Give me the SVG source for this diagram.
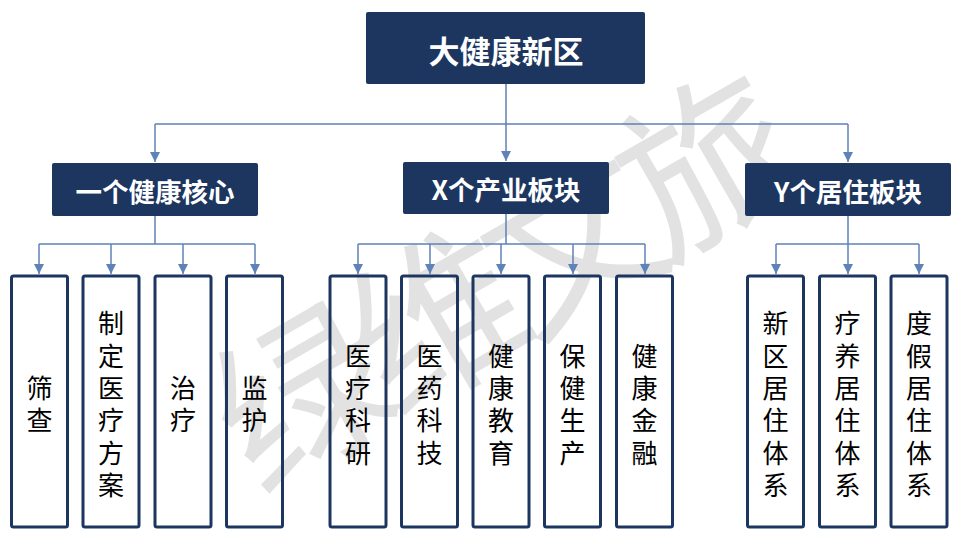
<svg xmlns="http://www.w3.org/2000/svg" width="960" height="540" viewBox="0 0 960 540">
<style>
.dark{fill:#1D3660;}
.leaf{fill:none;stroke:#1D3660;stroke-width:3;}
.t1{font-family:"Noto Sans CJK SC","Liberation Sans",sans-serif;font-weight:bold;fill:#FFFFFF;text-anchor:middle;dominant-baseline:central;}
.lt{font-family:"Noto Sans CJK SC","Liberation Sans",sans-serif;font-size:26px;fill:#000000;text-anchor:middle;dominant-baseline:central;}
.con{fill:none;stroke:#5F82B8;stroke-width:1.5;}
.wm{font-family:"Noto Sans CJK SC",sans-serif;font-size:172px;font-weight:normal;fill:#E2E2E2;text-anchor:middle;dominant-baseline:central;}
</style>
<defs>
<marker id="arr" markerWidth="10" markerHeight="10" refX="8" refY="4" orient="auto" markerUnits="userSpaceOnUse" viewBox="0 0 8 8">
<path d="M0,0 L8,4 L0,8 Z" fill="#5F82B8"/>
</marker>
</defs>
<rect width="960" height="540" fill="#FFFFFF"/>
<text class="wm" x="492" y="275" transform="rotate(-30 492 275)" letter-spacing="-16">绿维文旅</text>
<g id="connectors">
<path class="con" d="M506,84 V124 M155,124 H848"/>
<path class="con" d="M155,124 V162" marker-end="url(#arr)"/>
<path class="con" d="M506,124 V161" marker-end="url(#arr)"/>
<path class="con" d="M848,124 V162" marker-end="url(#arr)"/>
<path class="con" d="M155,216 V244 M39,244 H255"/>
<path class="con" d="M39,244 V274" marker-end="url(#arr)"/>
<path class="con" d="M111,244 V274" marker-end="url(#arr)"/>
<path class="con" d="M183,244 V274" marker-end="url(#arr)"/>
<path class="con" d="M255,244 V274" marker-end="url(#arr)"/>
<path class="con" d="M506,214 V244 M358,244 H645"/>
<path class="con" d="M358,244 V274" marker-end="url(#arr)"/>
<path class="con" d="M430,244 V274" marker-end="url(#arr)"/>
<path class="con" d="M501,244 V274" marker-end="url(#arr)"/>
<path class="con" d="M573,244 V274" marker-end="url(#arr)"/>
<path class="con" d="M645,244 V274" marker-end="url(#arr)"/>
<path class="con" d="M848,216 V244 M776,244 H919"/>
<path class="con" d="M776,244 V274" marker-end="url(#arr)"/>
<path class="con" d="M848,244 V274" marker-end="url(#arr)"/>
<path class="con" d="M919,244 V274" marker-end="url(#arr)"/>
</g>
<g id="root">
<rect class="dark" x="366" y="12" width="279" height="72" rx="2"/>
<text class="t1" x="506" y="49" font-size="31">大健康新区</text>
</g>
<g id="cat1">
<rect class="dark" x="52" y="163" width="206" height="53" rx="2"/>
<text class="t1" x="155" y="190" font-size="26.5">一个健康核心</text>
</g>
<g id="cat2">
<rect class="dark" x="403" y="162" width="206" height="52" rx="2"/>
<text class="t1" x="506" y="188" font-size="26.5">X个产业板块</text>
</g>
<g id="cat3">
<rect class="dark" x="745" y="163" width="206" height="53" rx="2"/>
<text class="t1" x="848" y="190" font-size="26.5">Y个居住板块</text>
</g>
<g id="leaf1">
<rect class="leaf" x="11.5" y="276" width="56" height="251" rx="2"/>
<text class="lt" x="39.5"><tspan x="39.5" y="386">筛</tspan><tspan x="39.5" y="418">查</tspan></text>
</g>
<g id="leaf2">
<rect class="leaf" x="83" y="276" width="56" height="251" rx="2"/>
<text class="lt"><tspan x="111" y="321">制</tspan><tspan x="111" y="353.5">定</tspan><tspan x="111" y="386">医</tspan><tspan x="111" y="418">疗</tspan><tspan x="111" y="450.5">方</tspan><tspan x="111" y="483">案</tspan></text>
</g>
<g id="leaf3">
<rect class="leaf" x="155" y="276" width="56" height="251" rx="2"/>
<text class="lt"><tspan x="183" y="386">治</tspan><tspan x="183" y="418">疗</tspan></text>
</g>
<g id="leaf4">
<rect class="leaf" x="226.5" y="276" width="56" height="251" rx="2"/>
<text class="lt"><tspan x="254.5" y="386">监</tspan><tspan x="254.5" y="418">护</tspan></text>
</g>
<g id="leaf5">
<rect class="leaf" x="330" y="276" width="56" height="251" rx="2"/>
<text class="lt"><tspan x="358" y="353.5">医</tspan><tspan x="358" y="386">疗</tspan><tspan x="358" y="418">科</tspan><tspan x="358" y="450.5">研</tspan></text>
</g>
<g id="leaf6">
<rect class="leaf" x="401.5" y="276" width="56" height="251" rx="2"/>
<text class="lt"><tspan x="429.5" y="353.5">医</tspan><tspan x="429.5" y="386">药</tspan><tspan x="429.5" y="418">科</tspan><tspan x="429.5" y="450.5">技</tspan></text>
</g>
<g id="leaf7">
<rect class="leaf" x="473" y="276" width="56" height="251" rx="2"/>
<text class="lt"><tspan x="501" y="353.5">健</tspan><tspan x="501" y="386">康</tspan><tspan x="501" y="418">教</tspan><tspan x="501" y="450.5">育</tspan></text>
</g>
<g id="leaf8">
<rect class="leaf" x="544.5" y="276" width="56" height="251" rx="2"/>
<text class="lt"><tspan x="572.5" y="353.5">保</tspan><tspan x="572.5" y="386">健</tspan><tspan x="572.5" y="418">生</tspan><tspan x="572.5" y="450.5">产</tspan></text>
</g>
<g id="leaf9">
<rect class="leaf" x="616.5" y="276" width="56" height="251" rx="2"/>
<text class="lt"><tspan x="644.5" y="353.5">健</tspan><tspan x="644.5" y="386">康</tspan><tspan x="644.5" y="418">金</tspan><tspan x="644.5" y="450.5">融</tspan></text>
</g>
<g id="leaf10">
<rect class="leaf" x="747.5" y="276" width="56" height="251" rx="2"/>
<text class="lt"><tspan x="775.5" y="321">新</tspan><tspan x="775.5" y="353.5">区</tspan><tspan x="775.5" y="386">居</tspan><tspan x="775.5" y="418">住</tspan><tspan x="775.5" y="450.5">体</tspan><tspan x="775.5" y="483">系</tspan></text>
</g>
<g id="leaf11">
<rect class="leaf" x="819.5" y="276" width="56" height="251" rx="2"/>
<text class="lt"><tspan x="847.5" y="321">疗</tspan><tspan x="847.5" y="353.5">养</tspan><tspan x="847.5" y="386">居</tspan><tspan x="847.5" y="418">住</tspan><tspan x="847.5" y="450.5">体</tspan><tspan x="847.5" y="483">系</tspan></text>
</g>
<g id="leaf12">
<rect class="leaf" x="891" y="276" width="56" height="251" rx="2"/>
<text class="lt"><tspan x="919" y="321">度</tspan><tspan x="919" y="353.5">假</tspan><tspan x="919" y="386">居</tspan><tspan x="919" y="418">住</tspan><tspan x="919" y="450.5">体</tspan><tspan x="919" y="483">系</tspan></text>
</g>
</svg>
